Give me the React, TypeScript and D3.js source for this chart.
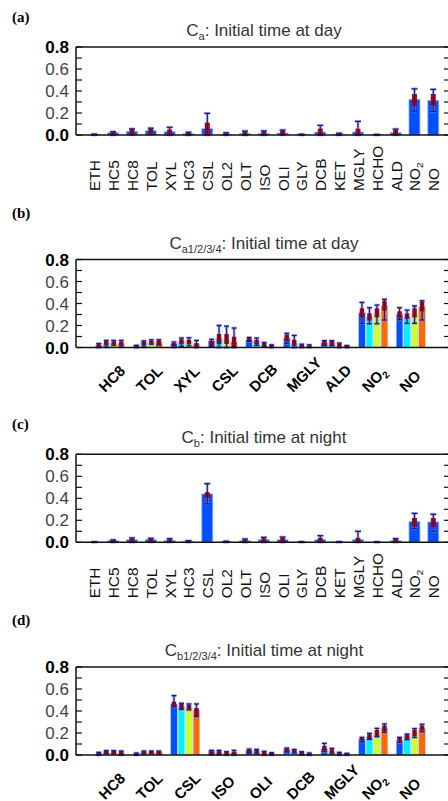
import React from 'react';
import * as d3 from 'd3';

// ---------- data ----------
const catsAC = ['ETH','HC5','HC8','TOL','XYL','HC3','CSL','OL2','OLT','ISO','OLI','GLY','DCB','KET','MGLY','HCHO','ALD','NO2','NO'];

const aMean = [0.004,0.021,0.033,0.039,0.03,0.012,0.058,0.007,0.013,0.014,0.018,0.004,0.027,0.008,0.027,0.003,0.021,0.325,0.315];
const aBoxLo = [0.001,0.003,0.006,0.014,0.009,0.002,0.0,0.001,0.002,0.002,0.004,0.001,0.0,0.001,0.0,0.001,0.005,0.267,0.267];
const aBoxHi = [0.006,0.027,0.052,0.058,0.05,0.02,0.112,0.015,0.03,0.033,0.039,0.006,0.058,0.013,0.057,0.004,0.045,0.372,0.372];
const aWhLo = [0,0,0.003,0.008,0,0,0,0,0,0,0.002,0,0,0,0,0,0.002,0.218,0.215];
const aWhHi = [0.008,0.03,0.056,0.062,0.07,0.025,0.197,0.02,0.036,0.037,0.045,0.007,0.088,0.016,0.124,0.005,0.054,0.42,0.415];

const cMean = [0.003,0.015,0.024,0.024,0.018,0.01,0.44,0.005,0.015,0.024,0.024,0.004,0.024,0.004,0.024,0.002,0.015,0.188,0.185];
const cBoxLo = [0.001,0.002,0.003,0.006,0.004,0.001,0.405,0.001,0.001,0.002,0.002,0.001,0,0.001,0,0.001,0.001,0.14,0.14];
const cBoxHi = [0.004,0.018,0.033,0.03,0.026,0.013,0.455,0.008,0.025,0.036,0.04,0.005,0.04,0.005,0.04,0.003,0.027,0.22,0.22];
const cWhLo = [0,0,0,0.003,0.002,0,0.35,0,0,0,0,0,0,0,0,0,0,0.125,0.1];
const cWhHi = [0.005,0.022,0.04,0.036,0.033,0.015,0.533,0.01,0.03,0.045,0.048,0.006,0.06,0.006,0.1,0.004,0.033,0.263,0.255];

const groupsB = ['HC8','TOL','XYL','CSL','DCB','MGLY','ALD','NO2','NO'];
const bMean = [[0.02,0.041,0.05,0.039],[0.015,0.045,0.058,0.048],[0.035,0.058,0.055,0.03],[0.062,0.083,0.07,0.05],[0.071,0.059,0.02,0.011],[0.086,0.038,0.015,0.009],[0.044,0.047,0.015,0.012],[0.316,0.28,0.31,0.38],[0.305,0.28,0.305,0.37]];
const bBoxLo = [[0.003,0.02,0.025,0.015],[0,0.018,0.035,0.026],[0.01,0.03,0.03,0],[0.007,0.032,0.032,0],[0.056,0.03,0.012,0.003],[0.056,0.015,0.003,0.002],[0.02,0.02,0.003,0.002],[0.274,0.244,0.274,0.335],[0.265,0.26,0.274,0.329]];
const bBoxHi = [[0.03,0.057,0.055,0.053],[0.018,0.055,0.06,0.064],[0.04,0.075,0.07,0.04],[0.059,0.123,0.123,0.098],[0.086,0.07,0.04,0.02],[0.117,0.07,0.025,0.02],[0.059,0.059,0.035,0.015],[0.356,0.31,0.356,0.425],[0.329,0.31,0.356,0.416]];
const bWhLo = [[0,0.003,0.02,0.003],[0,0.003,0.03,0.022],[0,0.01,0.015,0],[0.01,0,0,0],[0.056,0.02,0.008,0],[0.038,0,0,0],[0.02,0.015,0,0],[0.22,0.216,0.216,0.25],[0.253,0.22,0.22,0.25]];
const bWhHi = [[0.036,0.064,0.064,0.064],[0.02,0.06,0.07,0.07],[0.05,0.086,0.088,0.064],[0.074,0.2,0.194,0.177],[0.091,0.086,0.045,0.024],[0.129,0.11,0.03,0.024],[0.062,0.062,0.04,0.018],[0.41,0.362,0.386,0.438],[0.362,0.34,0.378,0.425]];

const groupsD = ['HC8','TOL','CSL','ISO','OLI','DCB','MGLY','NO2','NO'];
const dMean = [[0.015,0.03,0.027,0.018],[0.012,0.027,0.027,0.027],[0.464,0.445,0.436,0.41],[0.04,0.027,0.015,0.024],[0.045,0.036,0.018,0.012],[0.052,0.036,0.018,0.009],[0.06,0.033,0.012,0.009],[0.145,0.167,0.203,0.245],[0.136,0.17,0.197,0.245]];
const dBoxLo = [[0.002,0.012,0.012,0.003],[0,0.012,0.015,0.012],[0.44,0.42,0.418,0.355],[0.006,0.009,0.003,0.003],[0.02,0.015,0.003,0],[0.03,0.02,0.006,0],[0.04,0.015,0.003,0],[0.133,0.145,0.173,0.215],[0.124,0.145,0.173,0.224]];
const dBoxHi = [[0.02,0.036,0.036,0.033],[0.015,0.033,0.033,0.033],[0.485,0.464,0.455,0.427],[0.033,0.036,0.027,0.03],[0.05,0.045,0.03,0.02],[0.06,0.045,0.027,0.015],[0.082,0.052,0.02,0.012],[0.155,0.188,0.227,0.267],[0.155,0.188,0.227,0.267]];
const dWhLo = [[0,0.012,0.012,0],[0,0.01,0.012,0.01],[0.437,0.415,0.41,0.35],[0.003,0.003,0,0],[0.018,0.012,0,0],[0.027,0.018,0.003,0],[0.033,0.009,0,0],[0.12,0.142,0.167,0.206],[0.115,0.14,0.16,0.212]];
const dWhHi = [[0.024,0.04,0.04,0.036],[0.018,0.036,0.036,0.036],[0.54,0.47,0.464,0.464],[0.042,0.042,0.03,0.042],[0.054,0.05,0.033,0.021],[0.063,0.05,0.03,0.018],[0.106,0.06,0.024,0.015],[0.16,0.197,0.242,0.282],[0.16,0.19,0.24,0.279]];

const seriesColors = ['#0050ff', '#00f4ff', '#ccff33', '#ff6a00'];
const yTickValues = [0, 0.1, 0.2, 0.3, 0.4, 0.5, 0.6, 0.7, 0.8];
const yLabelValues = [0, 0.2, 0.4, 0.6, 0.8];

// ---------- layout ----------
const W = 448, H = 801;
const LEFT = 76, RIGHT = 451;
const FONT = '"Liberation Sans", Arial, Helvetica, sans-serif';
const RED = '#b80000';
const NAVY = '#1a1a8c';
const HALO = '#8a8ad8';

function LabelText({ name, sub = 9 }: { name: string; sub?: number }) {
  if (name === 'NO2') {
    return (<>NO<tspan fontSize={sub} dy={3}>2</tspan></>);
  }
  return <>{name}</>;
}

function Whisker({ x, y, lo, hi, boxLo, boxHi, boxW, capW }: any) {
  const yl = y(lo), yh = y(hi);
  return (
    <g>
      <line x1={x} x2={x} y1={yh} y2={yl} stroke={HALO} strokeOpacity={0.55} strokeWidth={3} />
      <line x1={x - capW / 2} x2={x + capW / 2} y1={yh} y2={yh} stroke={HALO} strokeOpacity={0.55} strokeWidth={3} />
      <line x1={x - capW / 2} x2={x + capW / 2} y1={yl} y2={yl} stroke={HALO} strokeOpacity={0.55} strokeWidth={3} />
      <rect x={x - boxW / 2} y={y(boxHi)} width={boxW} height={Math.max(0.8, y(boxLo) - y(boxHi))} fill={RED} />
      <line x1={x} x2={x} y1={yh} y2={yl} stroke={NAVY} strokeWidth={1.2} />
      <line x1={x - capW / 2} x2={x + capW / 2} y1={yh} y2={yh} stroke={NAVY} strokeWidth={1.3} />
      <line x1={x - capW / 2} x2={x + capW / 2} y1={yl} y2={yl} stroke={NAVY} strokeWidth={1.3} />
    </g>
  );
}

function Frame({ y, axisY }: any) {
  const top = y(0.8);
  return (
    <g>
      {yTickValues.map((t) => (
        <g key={t}>
          <line x1={LEFT} x2={LEFT + 6} y1={y(t)} y2={y(t)} stroke="#111" strokeWidth={1.2} />
          <line x1={RIGHT - 7} x2={RIGHT} y1={y(t)} y2={y(t)} stroke="#111" strokeWidth={1.2} />
        </g>
      ))}
      <line x1={LEFT} x2={RIGHT} y1={top} y2={top} stroke="#111" strokeWidth={1.5} />
      <line x1={LEFT} x2={RIGHT} y1={axisY} y2={axisY} stroke="#111" strokeWidth={1.6} />
      <line x1={LEFT} x2={LEFT} y1={top} y2={axisY} stroke="#111" strokeWidth={1.5} />
      <line x1={RIGHT} x2={RIGHT} y1={top} y2={axisY} stroke="#111" strokeWidth={1.5} />
      {yLabelValues.map((t) => {
        const bold = t === 0 || t === 0.8;
        return (
          <text key={t} x={69} y={y(t)} dy="0.36em" textAnchor="end" fontFamily={FONT} fontSize={17}
            fontWeight={bold ? 'bold' : 'normal'} fill={bold ? '#000' : '#444'}>
            {d3.format('.1f')(t)}
          </text>
        );
      })}
    </g>
  );
}

function Title({ top, sub, text, label, labelDy }: any) {
  return (
    <g>
      <text x={12} y={top - labelDy} fontFamily='"Liberation Serif", "Times New Roman", serif' fontWeight="bold" fontSize={15} fill="#000">{label}</text>
      <text x={264} y={top - 11} textAnchor="middle" fontFamily={FONT} fontSize={17} fill="#333">
        C<tspan fontSize={11} dy={4}>{sub}</tspan><tspan dy={-4}>{text}</tspan>
      </text>
    </g>
  );
}

function SinglePanel({ axisY, mean, boxLo, boxHi, whLo, whHi, sub, text, label }: any) {
  const y = d3.scaleLinear().domain([0, 0.8]).range([axisY, axisY - 88]);
  const x = d3.scalePoint<string>().domain(catsAC).range([94.3, 433.3]);
  const bw = 11;
  return (
    <g>
      <Title top={y(0.8)} sub={sub} text={text} label={label} labelDy={25} />
      {catsAC.map((c, i) => {
        const cx = x(c)!;
        return (
          <g key={c}>
            <rect x={cx - bw / 2} y={y(mean[i])} width={bw} height={y(0) - y(mean[i])} fill="#0050ff" stroke="#9db4ff" strokeWidth={0.8} />
            <Whisker x={cx} y={y} lo={whLo[i]} hi={whHi[i]} boxLo={boxLo[i]} boxHi={boxHi[i]} boxW={5} capW={6} />
          </g>
        );
      })}
      <Frame y={y} axisY={axisY} />
      {catsAC.map((c) => (
        <text key={c} transform={`translate(${x(c)! + 6},${axisY + 56}) rotate(-90) scale(1.1,1)`}
          textAnchor="start" fontFamily={FONT} fontSize={14} fill="#111">
          <LabelText name={c} />
        </text>
      ))}
    </g>
  );
}

function GroupPanel({ axisY, groups, mean, boxLo, boxHi, whLo, whHi, sub, text, label }: any) {
  const y = d3.scaleLinear().domain([0, 0.8]).range([axisY, axisY - 88]);
  const x = d3.scalePoint<string>().domain(groups).range([110, 410.8]);
  const inner = d3.scaleBand<number>().domain([0, 1, 2, 3]).range([-15, 15]).paddingInner(0.1).paddingOuter(0.05);
  const bw = inner.bandwidth();
  return (
    <g>
      <Title top={y(0.8)} sub={sub} text={text} label={label} labelDy={42} />
      {groups.map((g: string, gi: number) => (
        <g key={g}>
          {seriesColors.map((col, si) => {
            const cx = x(g)! + inner(si)! + bw / 2;
            const v = mean[gi][si];
            return (
              <g key={si}>
                <rect x={cx - bw / 2} y={y(v)} width={bw} height={y(0) - y(v)} fill={col} stroke="#c8d0ff" strokeWidth={0.7} />
                <Whisker x={cx} y={y} lo={whLo[gi][si]} hi={whHi[gi][si]} boxLo={boxLo[gi][si]} boxHi={boxHi[gi][si]} boxW={4.5} capW={5} />
              </g>
            );
          })}
        </g>
      ))}
      <Frame y={y} axisY={axisY} />
      {groups.map((g: string) => (
        <text key={g} transform={`translate(${x(g)! - 5},${axisY + 45.5}) rotate(-45)`}
          textAnchor="start" fontFamily={FONT} fontSize={15} fontWeight="bold" fill="#000">
          <LabelText name={g} sub={10} />
        </text>
      ))}
    </g>
  );
}

export default function App() {
  return (
    <svg width={W} height={H} style={{ position: 'absolute', left: 0, top: 0, background: '#fff' }}>
      <rect x={0} y={0} width={W} height={H} fill="#fff" />
      <SinglePanel axisY={135} mean={aMean} boxLo={aBoxLo} boxHi={aBoxHi} whLo={aWhLo} whHi={aWhHi}
        sub="a" text=": Initial time at day" label="(a)" />
      <GroupPanel axisY={347.5} groups={groupsB} mean={bMean} boxLo={bBoxLo} boxHi={bBoxHi} whLo={bWhLo} whHi={bWhHi}
        sub="a1/2/3/4" text=": Initial time at day" label="(b)" />
      <SinglePanel axisY={542.3} mean={cMean} boxLo={cBoxLo} boxHi={cBoxHi} whLo={cWhLo} whHi={cWhHi}
        sub="b" text=": Initial time at night" label="(c)" />
      <GroupPanel axisY={755} groups={groupsD} mean={dMean} boxLo={dBoxLo} boxHi={dBoxHi} whLo={dWhLo} whHi={dWhHi}
        sub="b1/2/3/4" text=": Initial time at night" label="(d)" />
    </svg>
  );
}
